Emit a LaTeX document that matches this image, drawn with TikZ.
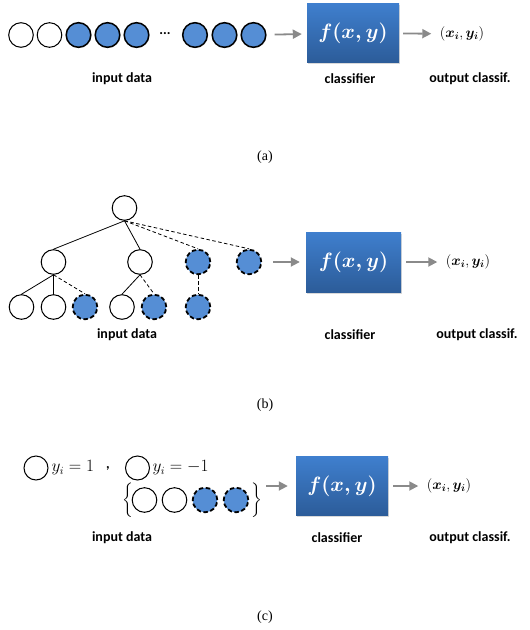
\documentclass[tikz,border=0pt]{standalone}
\usepackage{amsmath}
\usepackage{fontspec}
\setmainfont{Liberation Serif}
\newfontfamily\lblfont{Carlito}
\usetikzlibrary{arrows.meta,shadows}

\definecolor{cblue}{HTML}{558ED5}
\definecolor{boxtop}{HTML}{3F7FCE}
\definecolor{boxbot}{HTML}{2C5C99}
\definecolor{agray}{HTML}{8A8A8A}

\tikzstyle{wdot} = [circle, draw, fill=white, line width=1pt, minimum size=24.6pt, inner sep=0pt]
\tikzstyle{bdot} = [wdot, fill=cblue, line width=1.5pt, drop shadow={shadow xshift=0.8pt, shadow yshift=-0.8pt, opacity=0.25}]
\tikzstyle{ddot} = [wdot, fill=cblue, line width=1.8pt, dash pattern=on 4.5pt off 2.5pt]
\tikzstyle{clbox} = [draw=none, top color=boxtop, bottom color=boxbot, minimum width=92pt, minimum height=59pt, text=white, font=\fontsize{21}{21}\selectfont, drop shadow={shadow xshift=1pt, shadow yshift=-1.5pt, opacity=0.3}]
\tikzstyle{garrow} = [draw=agray, line width=1.8pt, -{Triangle[length=9pt,width=9pt]}]
\tikzstyle{tline} = [draw, line width=0.8pt]
\tikzstyle{dline} = [tline, dash pattern=on 3.5pt off 2.5pt]
\tikzstyle{lbl} = [font=\lblfont\bfseries\fontsize{14}{16}\selectfont]
\tikzstyle{outp} = [font=\fontsize{14.5}{14.5}\selectfont]
\tikzstyle{setl} = [font=\fontsize{16}{16}\selectfont]
\tikzstyle{sublbl} = [font=\fontsize{14}{14}\selectfont]

\begin{document}
\begin{tikzpicture}[x=1pt, y=-1pt]
	\useasboundingbox (0,0) rectangle (530,630);

	% (a) sequence
	\node[wdot] (a1) at (21,35) {};
	\node[wdot] (a2) at (49.5,35) {};
	\node[bdot] (a3) at (78.5,35) {};
	\node[bdot] (a4) at (107.5,35) {};
	\node[bdot] (a5) at (136.5,35) {};
	\node[lbl] (adots) at (165,34) {...};
	\node[bdot] (a6) at (195,35) {};
	\node[bdot] (a7) at (224.5,35) {};
	\node[bdot] (a8) at (253.5,35) {};
	\node[clbox] (fa) at (353,33) {$\boldsymbol{f(x,y)}$};
	\node[outp] (oa) at (462,34) {$(\boldsymbol{x_i},\boldsymbol{y_i})$};
	\draw[garrow, shorten <=8pt, shorten >=5pt] (a8) -- (fa);
	\draw[garrow, shorten <=4pt, shorten >=5pt] (fa) -- (oa);
	\node[lbl] (ina) at (122,79) {input data};
	\node[lbl] (cla) at (350,79) {classifier};
	\node[lbl] (outa) at (470,79) {output classif.};
	\node[sublbl] (capa) at (265,157) {(a)};

	% (b) tree
	\node[wdot] (r) at (124.5,208) {};
	\node[wdot] (b1) at (53.5,262) {};
	\node[wdot] (b2) at (140,262) {};
	\node[ddot] (b3) at (198,262) {};
	\node[ddot] (b4) at (249,262) {};
	\node[wdot] (c1) at (21.5,307) {};
	\node[wdot] (c2) at (53.5,307) {};
	\node[ddot] (c3) at (85,307) {};
	\node[wdot] (c4) at (122,307) {};
	\node[ddot] (c5) at (154,307) {};
	\node[ddot] (c6) at (198,307) {};
	\path[tline] (r.south) -- (b1.north);
	\path[tline] (r.south) -- (b2.north);
	\path[dline] (r.south) -- (b3.north);
	\path[dline] (r.south) -- (b4.north);
	\path[tline] (b1.south) -- (c1.north);
	\path[tline] (b1.south) -- (c2.north);
	\path[dline] (b1.south) -- (c3.north);
	\path[tline] (b2.south) -- (c4.north);
	\path[dline] (b2.south) -- (c5.north);
	\path[dline] (b3.south) -- (c6.north);
	\node[clbox, minimum width=95pt, minimum height=60pt] (fb) at (353.5,262) {$\boldsymbol{f(x,y)}$};
	\node[outp] (ob) at (468,262) {$(\boldsymbol{x_i},\boldsymbol{y_i})$};
	\draw[garrow, shorten <=11pt, shorten >=6pt] (b4) -- (fb);
	\draw[garrow, shorten <=5pt, shorten >=5pt] (fb) -- (ob);
	\node[lbl] (inb) at (127,335) {input data};
	\node[lbl] (clb) at (350,335) {classifier};
	\node[lbl] (outb) at (477,335) {output classif.};
	\node[sublbl] (capb) at (265,405) {(b)};

	% (c) set
	\node[wdot, minimum size=24pt] (pos) at (36,468) {};
	\node[setl, anchor=west] (posl) at (48,468) {$y_i=1$};
	\node[lbl] (comma) at (108,468) {,};
	\node[wdot, minimum size=24pt] (neg) at (137.5,468) {};
	\node[setl, anchor=west] (negl) at (149,468) {$y_i=-1$};
	\node[outp, inner sep=0pt] (lbr) at (128,500) {$\left\{\vrule height 13pt depth 13pt width 0pt\right.$};
	\node[wdot] (s1) at (144.5,500) {};
	\node[wdot] (s2) at (174.5,500) {};
	\node[ddot] (s3) at (205,500) {};
	\node[ddot] (s4) at (236,500) {};
	\node[outp, inner sep=0pt] (rbr) at (256,500) {$\left.\vrule height 13pt depth 13pt width 0pt\right\}$};
	\node[clbox] (fc) at (342,486) {$\boldsymbol{f(x,y)}$};
	\node[outp] (oc) at (449,486) {$(\boldsymbol{x_i},\boldsymbol{y_i})$};
	\draw[garrow, shorten <=4pt, shorten >=8pt] (rbr.east |- fc) -- (fc.west);
	\draw[garrow, shorten <=5pt, shorten >=5pt] (fc) -- (oc);
	\node[lbl] (inc) at (122,538) {input data};
	\node[lbl] (clc) at (337,538) {classifier};
	\node[lbl] (outc) at (470,538) {output classif.};
	\node[sublbl] (capc) at (265,617) {(c)};

\end{tikzpicture}
\end{document}
